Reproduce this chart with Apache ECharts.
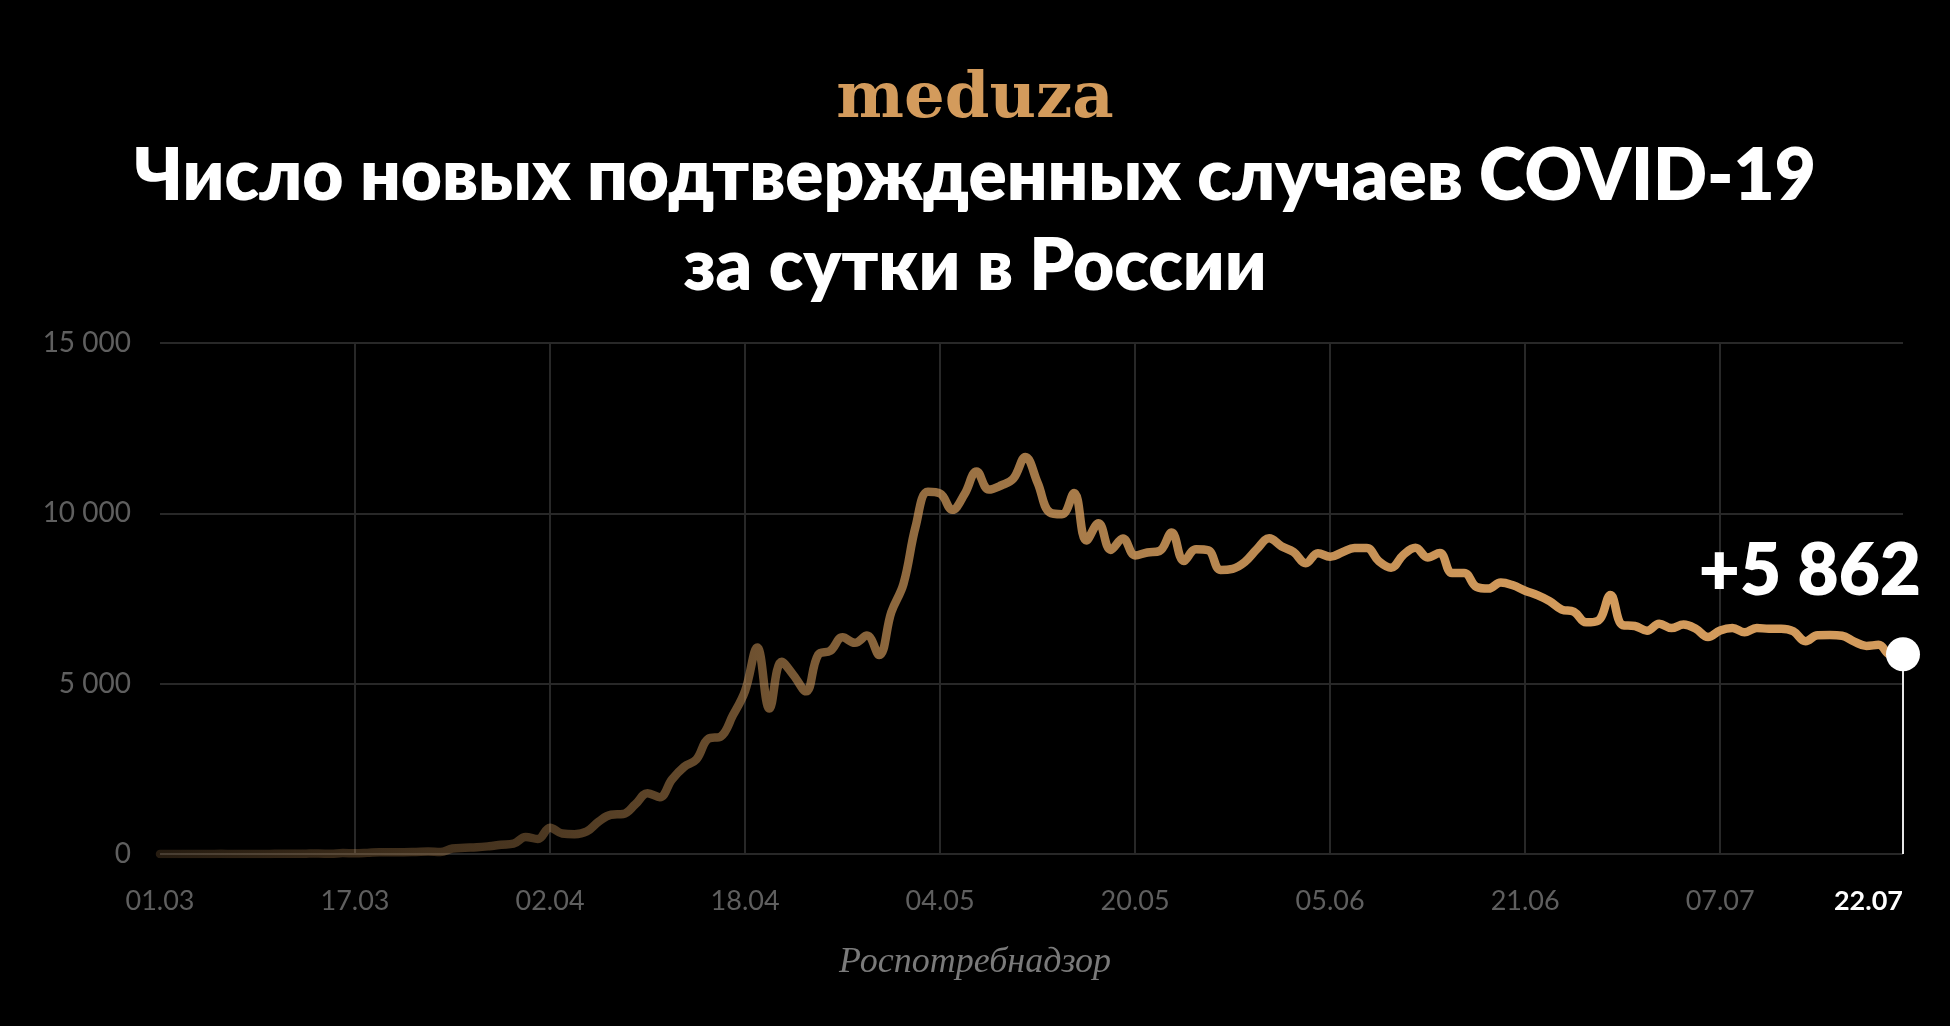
<!DOCTYPE html>
<html>
<head>
<meta charset="utf-8">
<script src="https://cdn.jsdelivr.net/npm/echarts@6/dist/echarts.min.js"></script>
<style>
html,body{margin:0;padding:0;background:#000;}
#chart{width:1950px;height:1026px;}
</style>
</head>
<body>
<div id="chart"></div>
<script>
// Daily new confirmed COVID-19 cases in Russia, 01.03 – 22.07
const marchCases = [0,1,0,0,1,6,0,3,0,3,8,6,11,14,4,30,21,33,52,54,53,61,71,57,163,182,196,228,270,302,501];
const aprilCases = [440,771,601,582,658,954,1154,1175,1459,1786,1667,2186,2558,2774,3388,3448,4070,4785,6060,4268,5642,5236,4774,5849,5966,6361,6198,6411,5841,7099];
const mayCases = [7933,9623,10633,10581,10102,10559,11231,10699,10817,11012,11656,10899,10028,9974,10598,9200,9709,8926,9263,8764,8849,8894,9434,8599,8946,8915,8338,8371,8572,8952,9268];
const juneCases = [9035,8863,8536,8831,8726,8855,8984,8985,8595,8404,8779,8987,8706,8835,8246,8248,7843,7790,7972,7889,7728,7600,7425,7176,7113,6800,6852,7600,6719,6693];
const julyCases = [6556,6760,6632,6736,6611,6368,6562,6635,6509,6635,6611,6615,6537,6248,6422,6428,6406,6234,6109,6139,5842,5862];

const values = marchCases.concat(aprilCases, mayCases, juneCases, julyCases);

// date categories dd.mm starting 01.03
const categories = [];
for (let i = 0; i < values.length; i++) {
  const d = new Date(2020, 2, 1 + i);
  const p = n => (n < 10 ? '0' : '') + n;
  categories.push(p(d.getDate()) + '.' + p(d.getMonth() + 1));
}
const xLabelStep = 16;

const yTicks = [0, 5000, 10000, 15000];
const yTickLabels = ['0', '5 000', '10 000', '15 000'];

const titleLines = ['Число новых подтвержденных случаев COVID-19', 'за сутки в России'];
const sourceText = 'Роспотребнадзор';
const logoText = 'meduza';

const lastIndex = values.length - 1;
const lastValue = values[lastIndex];
const fmtNum = v => String(v).replace(/\B(?=(\d{3})+(?!\d))/g, ' ');

const SANS = 'Lato, "Noto Sans", sans-serif';
const gold = '#d39b5c';

const chart = echarts.init(document.getElementById('chart'), null, {renderer: 'canvas'});
chart.setOption({
  backgroundColor: '#000',
  animation: false,
  title: [
    {
      text: logoText, left: 'center', top: 68, padding: 0,
      textStyle: {color: gold, fontFamily: '"DejaVu Serif", serif', fontWeight: 'bold', fontSize: 64}
    },
    {
      text: titleLines[0], left: 'center', top: 133, padding: 0,
      textStyle: {color: '#fff', fontFamily: SANS, fontWeight: 800, fontSize: 71, lineHeight: 89}
    },
    {
      text: titleLines[1], left: 'center', top: 223, padding: 0,
      textStyle: {color: '#fff', fontFamily: SANS, fontWeight: 800, fontSize: 71, lineHeight: 89}
    },
    {
      text: sourceText, left: 'center', top: 945, padding: 0,
      textStyle: {color: '#7a7a7a', fontFamily: '"Liberation Serif", serif', fontStyle: 'italic', fontWeight: 'normal', fontSize: 36}
    }
  ],
  grid: {left: 160, right: 47, top: 343, bottom: 172},
  xAxis: {
    type: 'category',
    data: categories,
    boundaryGap: false,
    axisLine: {show: false},
    axisTick: {show: false},
    axisLabel: {
      interval: (i) => i % xLabelStep === 0 || i === lastIndex,
      color: '#5f5f5f', fontFamily: SANS, fontSize: 27, margin: 34,
      alignMaxLabel: 'right',
      formatter: (v, i) => i === lastIndex ? '{hl|' + v + '}' : v,
      rich: {hl: {color: '#fff', fontFamily: SANS, fontSize: 27, fontWeight: 'bold'}}
    },
    splitLine: {
      show: true,
      interval: (i) => i % xLabelStep === 0 && i > 0 && i < lastIndex,
      lineStyle: {color: '#282828', width: 2}
    }
  },
  yAxis: {
    type: 'value', min: 0, max: 15000, interval: 5000,
    axisLine: {show: false}, axisTick: {show: false},
    axisLabel: {
      color: '#5f5f5f', fontFamily: SANS, fontSize: 28, margin: 29,
      formatter: v => yTickLabels[yTicks.indexOf(v)]
    },
    splitLine: {show: true, lineStyle: {color: '#282828', width: 2}}
  },
  series: [
    {
      type: 'line',
      data: values,
      smooth: 0.4,
      symbol: 'none',
      z: 2,
      lineStyle: {
        width: 8.5,
        cap: 'round', join: 'round',
        color: new echarts.graphic.LinearGradient(0, 0, 1, 0, [
          {offset: 0, color: 'rgba(211,155,92,0.18)'},
          {offset: 0.22, color: 'rgba(211,155,92,0.36)'},
          {offset: 0.33, color: 'rgba(211,155,92,0.5)'},
          {offset: 0.45, color: 'rgba(211,155,92,0.72)'},
          {offset: 0.56, color: 'rgba(211,155,92,0.83)'},
          {offset: 0.67, color: 'rgba(211,155,92,0.93)'},
          {offset: 0.8, color: 'rgba(211,155,92,1)'},
          {offset: 1, color: 'rgba(211,155,92,1)'}
        ])
      },
      emphasis: {disabled: true}
    },
    {
      type: 'scatter',
      data: [[categories[lastIndex], lastValue]],
      symbol: 'circle',
      symbolSize: 34,
      z: 5,
      itemStyle: {color: '#fff', opacity: 1},
      label: {
        show: true,
        formatter: '+' + fmtNum(lastValue),
        position: [35, -30],
        align: 'right',
        verticalAlign: 'bottom',
        color: '#fff', opacity: 1, fontFamily: SANS, fontWeight: 800, fontSize: 71
      },
      markLine: {
        silent: true,
        symbol: ['none', 'none'],
        label: {show: false},
        lineStyle: {color: '#e6e6e6', width: 2, type: 'solid', opacity: 1},
        data: [[{coord: [categories[lastIndex], lastValue]}, {coord: [categories[lastIndex], 0]}]]
      },
      emphasis: {disabled: true}
    }
  ]
});
</script>
</body>
</html>
